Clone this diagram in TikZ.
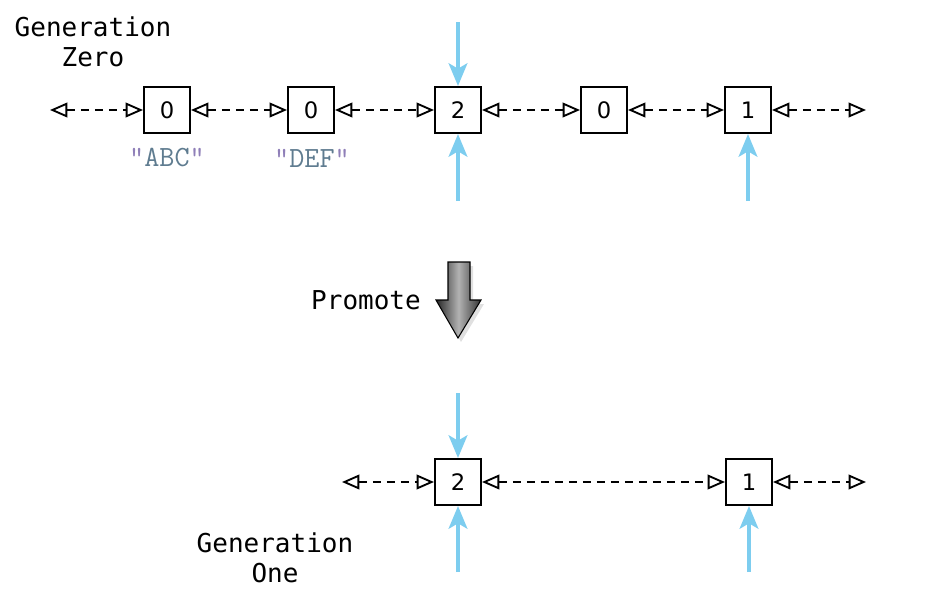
\documentclass[tikz,border=0pt]{standalone}
\usepackage{fontspec}
\newfontfamily\codefont{DejaVu Sans Mono}
\newfontfamily\boxfont{DejaVu Sans}
\usetikzlibrary{arrows.meta,positioning}
\definecolor{ptrblue}{HTML}{7DCDEF}
\definecolor{strgray}{HTML}{5F7C90}
\definecolor{quotepurple}{HTML}{8F7FB8}

\begin{document}
\begin{tikzpicture}[x=0.75pt, y=-0.75pt]
\tikzstyle{slot} = [draw, line width=1.3pt, minimum size=34pt, inner sep=0pt, outer sep=1pt, font=\boxfont\fontsize{17}{20}\selectfont]
\tikzstyle{link} = [{Triangle[open, length=13pt, width=11pt, line width=1.4pt]}-{Triangle[open, length=13pt, width=11pt, line width=1.4pt]}, line width=1.3pt, dash pattern=on 6pt off 4.5pt]
\tikzstyle{ptr} = [-{Stealth[length=17pt, width=14pt, inset=4pt]}, ptrblue, line width=2.8pt]
\tikzstyle{caption} = [align=center, font=\codefont\fontsize{19.5}{22.5}\selectfont]
\tikzstyle{strlbl} = [inner sep=0pt, font=\ttfamily\fontsize{22}{24}\selectfont]
\useasboundingbox (0,0) rectangle (926,597);

% generation zero
\node[caption] (gen0) at (93,42) {Generation\\Zero};
\node[slot] (g0a) at (167,110) {0};
\node[slot] (g0b) at (311,110) {0};
\node[slot] (g0c) at (458,110) {2};
\node[slot] (g0d) at (604,110) {0};
\node[slot] (g0e) at (748,110) {1};
\coordinate (g0l) at (50,110);
\coordinate (g0r) at (866,110);
\draw[link] (g0l) -- (g0a);
\draw[link] (g0a) -- (g0b);
\draw[link] (g0b) -- (g0c);
\draw[link] (g0c) -- (g0d);
\draw[link] (g0d) -- (g0e);
\draw[link] (g0e) -- (g0r);
\node[strlbl] (sabc) at (167,158) {\textcolor{quotepurple}{"}\textcolor{strgray}{ABC}\textcolor{quotepurple}{"}};
\node[strlbl] (sdef) at (312,158) {\textcolor{quotepurple}{"}\textcolor{strgray}{DEF}\textcolor{quotepurple}{"}};
\coordinate (p0t) at (458,22);
\coordinate (p0b) at (458,201);
\coordinate (p0e) at (748,201);
\draw[ptr] (p0t) -- (g0c);
\draw[ptr] (p0b) -- (g0c);
\draw[ptr] (p0e) -- (g0e);

% promote
\node[caption] (promote) at (366,300) {Promote};
\fill[black, opacity=0.12] (451,266) -- (473,266) -- (473,304) -- (484,304) -- (461,342) -- (439,304) -- (451,304) -- cycle;
\shade[left color=gray!30!black, right color=gray!40!black, middle color=gray!60, draw=black, line width=0.8pt]
  (448,262) -- (470,262) -- (470,300) -- (481,300) -- (458,338) -- (436,300) -- (448,300) -- cycle;

% generation one
\node[caption] (gen1) at (275,558) {Generation\\One};
\node[slot] (g1a) at (458,482) {2};
\node[slot] (g1b) at (749,482) {1};
\coordinate (g1l) at (342,482);
\coordinate (g1r) at (866,482);
\draw[link] (g1l) -- (g1a);
\draw[link] (g1a) -- (g1b);
\draw[link] (g1b) -- (g1r);
\coordinate (p1t) at (458,393);
\coordinate (p1b) at (458,572);
\coordinate (p1e) at (749,572);
\draw[ptr] (p1t) -- (g1a);
\draw[ptr] (p1b) -- (g1a);
\draw[ptr] (p1e) -- (g1b);
\end{tikzpicture}
\end{document}
